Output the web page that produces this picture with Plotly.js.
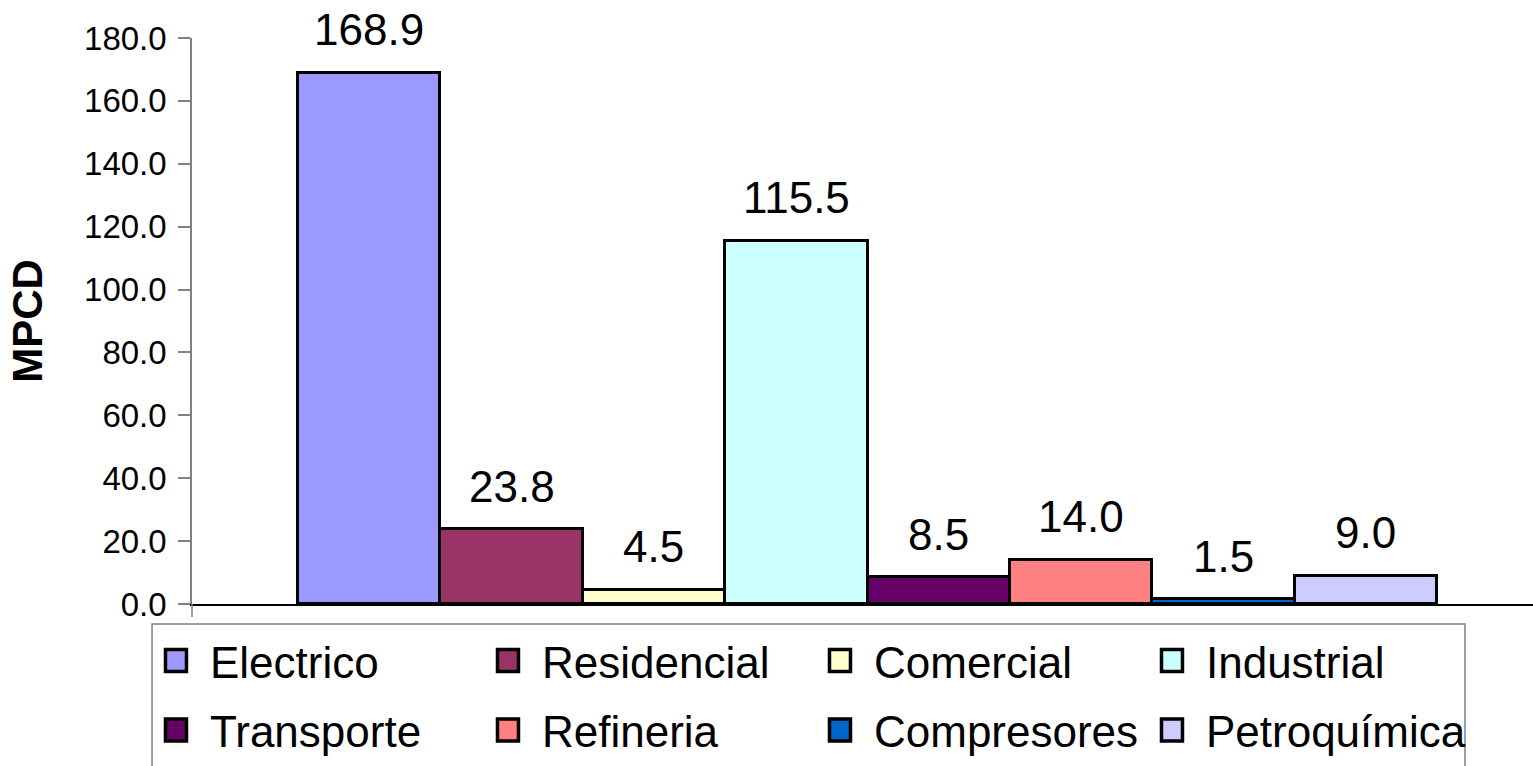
<!DOCTYPE html>
<html>
<head>
<meta charset="utf-8">
<script src="https://cdn.plot.ly/plotly-3.0.1.min.js"></script>
<style>
html,body{margin:0;padding:0;background:#fff;}
#chart{width:1533px;height:766px;}
#chart .legendpoints path{stroke:#000000 !important;stroke-width:3.5px !important;}
</style>
</head>
<body>
<div id="chart"></div>
<script>
var categories = ["Electrico", "Residencial", "Comercial", "Industrial", "Transporte", "Refineria", "Compresores", "Petroquímica"];
var values = [168.9, 23.8, 4.5, 115.5, 8.5, 14.0, 1.5, 9.0];
var colors = ["#9999FF", "#993366", "#FFFFCC", "#CCFFFF", "#660066", "#FF8080", "#0066CC", "#CCCCFF"];
var yTicks = [0, 20, 40, 60, 80, 100, 120, 140, 160, 180];
var yTitle = "MPCD";

var FONT = "Liberation Sans, Arial, sans-serif";

var traces = categories.map(function (c, i) {
  return {
    type: "bar",
    x: [c],
    y: [values[i]],
    name: c,
    legend: i < 4 ? "legend" : "legend2",
    marker: { color: colors[i], line: { color: "#000000", width: 3 } },
    hoverinfo: "name+y"
  };
});

var annotations = categories.map(function (c, i) {
  return {
    x: c, y: values[i], xref: "x", yref: "y",
    text: values[i].toFixed(1),
    showarrow: false, yanchor: "middle", yshift: 43,
    font: { family: FONT, size: 44, color: "#000000" }
  };
});

var legendCommon = {
  orientation: "h",
  xanchor: "left",
  yanchor: "middle",
  x: -0.0373,
  bgcolor: "rgba(0,0,0,0)",
  borderwidth: 0,
  itemwidth: 58,
  entrywidth: 259,
  entrywidthmode: "pixels",
  font: { family: FONT, size: 44, color: "#000000" },
  itemclick: false,
  itemdoubleclick: false
};
var legend1 = Object.assign({}, legendCommon, { y: -0.1005 });
var legend2 = Object.assign({}, legendCommon, { y: -0.2241 });

var layout = {
  width: 1533,
  height: 766,
  margin: { l: 192, r: 0, t: 38, b: 162 },
  paper_bgcolor: "#ffffff",
  plot_bgcolor: "#ffffff",
  barmode: "group",
  bargap: 0,
  bargroupgap: 0,
  showlegend: true,
  legend: legend1,
  legend2: legend2,
  xaxis: {
    type: "category",
    range: [-1.244, 8.173],
    showticklabels: false,
    ticks: "",
    showgrid: false,
    zeroline: false,
    showline: true,
    linecolor: "#000000",
    linewidth: 1.5,
    fixedrange: true
  },
  yaxis: {
    range: [0, 180],
    tickvals: yTicks,
    tickformat: ".1f",
    ticks: "outside",
    ticklen: 12,
    tickwidth: 1.5,
    tickcolor: "#808080",
    showline: true,
    linecolor: "#808080",
    linewidth: 1.5,
    showgrid: false,
    zeroline: false,
    ticklabelstandoff: 5,
    tickfont: { family: FONT, size: 33, color: "#000000" },
    title: { text: yTitle, standoff: 28, font: { family: FONT, size: 42, color: "#000000", weight: "bold" } },
    fixedrange: true
  },
  annotations: annotations,
  shapes: [
    { type: "rect", xref: "paper", yref: "paper", x0: -0.0298, x1: 0.9493, y0: -0.0353, y1: -0.30,
      line: { color: "#808080", width: 1.5 }, fillcolor: "rgba(0,0,0,0)", layer: "below" },
    { type: "line", xref: "paper", yref: "paper", x0: 0, x1: 0, y0: 0, y1: -0.023,
      line: { color: "#808080", width: 1.5 } }
  ]
};

function enlargeLegendSymbols() {
  document.querySelectorAll("#chart .legendpoints path").forEach(function (p) {
    p.setAttribute("d", "M10.5,11H-10.5V-11H10.5Z");
  });
}

Plotly.newPlot("chart", traces, layout, { displayModeBar: false, responsive: false }).then(function () {
  enlargeLegendSymbols();
  setTimeout(enlargeLegendSymbols, 50);
});
</script>
</body>
</html>
